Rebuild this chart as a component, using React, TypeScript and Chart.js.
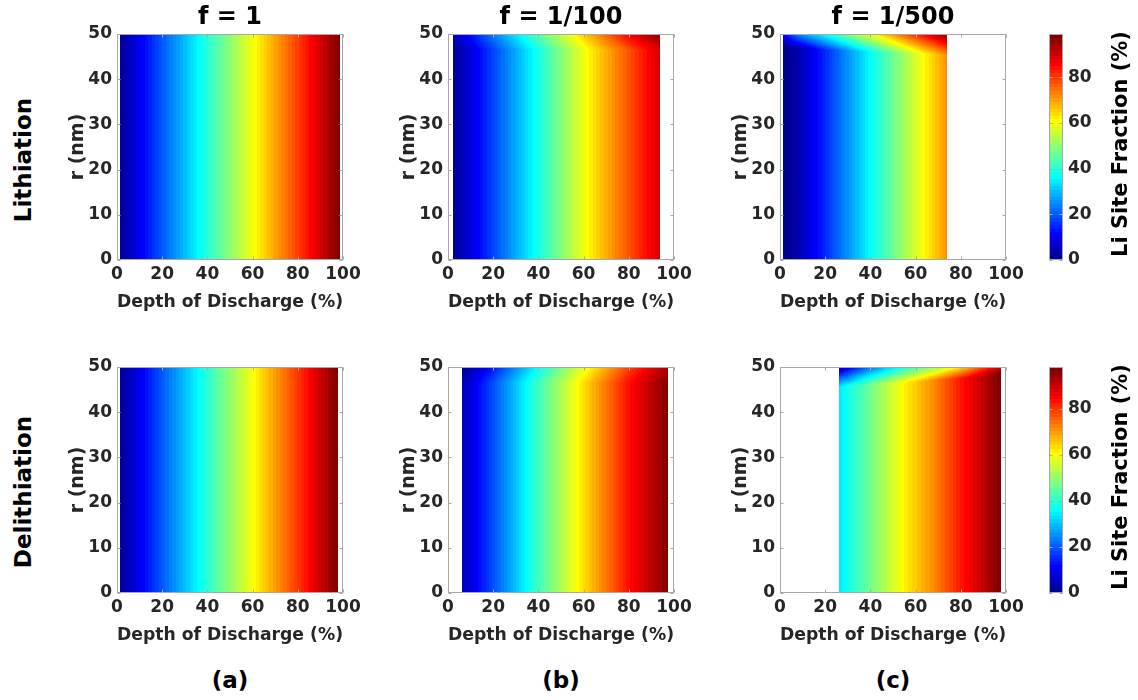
import React, { useEffect, useRef } from 'react';
import { Chart, registerables } from 'chart.js';

Chart.register(...registerables);

// ---------------- text ----------------
const COLUMN_TITLES = ['f = 1', 'f = 1/100', 'f = 1/500'];
const ROW_LABELS = ['Lithiation', 'Delithiation'];
const PANEL_LABELS = ['(a)', '(b)', '(c)'];
const X_TITLE = 'Depth of Discharge (%)';
const Y_TITLE = 'r (nm)';
const CBAR_TITLE = 'Li Site Fraction (%)';

// ---------------- axes ----------------
const DOD_RANGE = [0, 100];
const DOD_STEP = 20;
const R_RANGE = [0, 50];
const R_STEP = 10;
const CBAR_STEP = 20;
const CLIM_MAX = [98.9, 98.1]; // colour limits (Li site fraction %) per row

// ---------------- data ----------------
// Each panel: DOD columns (%), bulk Li fraction (%), fraction at surface r = 50 nm (%),
// and radius (nm) where the surface layer begins.
// Lithiation, f = 1
const liF1Dod = [1.5, 20, 40, 60, 80, 98.8];
const liF1Bulk = [1.5, 20, 40, 60, 80, 98.8];
const liF1Surf = [1.5, 20, 40, 60, 80, 98.8];
const liF1Rint = [47, 47, 47, 47, 47, 47];
// Lithiation, f = 1/100
const liF100Dod = [2, 20, 39, 63, 80, 93.7];
const liF100Bulk = [1, 18, 37.5, 62.5, 78, 90];
const liF100Surf = [5, 24, 44, 69, 87, 97];
const liF100Rint = [46.5, 46.5, 46.5, 46.5, 46.5, 46.5];
// Lithiation, f = 1/500
const liF500Dod = [1.5, 8, 17, 22, 41, 53, 65, 74];
const liF500Bulk = [0, 4, 12.5, 17.5, 37.5, 50, 62.5, 72];
const liF500Surf = [12, 25, 35, 40, 61, 75, 88, 97];
const liF500Rint = [47, 46.8, 46.6, 46.4, 46, 45.8, 45.5, 45.3];
// Delithiation, f = 1
const deF1Dod = [1.5, 20, 40, 60, 80, 98];
const deF1Bulk = [1.5, 20, 40, 60, 80, 98];
const deF1Surf = [1.5, 20, 40, 60, 80, 98];
const deF1Rint = [47, 47, 47, 47, 47, 47];
// Delithiation, f = 1/100
const deF100Dod = [6.2, 20, 36, 59, 80, 97.4];
const deF100Bulk = [4, 19, 37.5, 62.5, 84, 97];
const deF100Surf = [0, 13.5, 32, 57, 79, 93];
const deF100Rint = [46.5, 46.5, 46.5, 46.5, 46.5, 46.5];
// Delithiation, f = 1/500
const deF500Dod = [26, 38, 55, 68, 80, 91, 97.6];
const deF500Bulk = [34, 45, 61.5, 72, 83, 92, 98];
const deF500Surf = [3, 20, 38, 50, 63, 80, 90];
const deF500Rint = [45.5, 46, 46.5, 47, 47.5, 48, 48.5];

const FIELDS = [
  [
    { dod: liF1Dod, bulk: liF1Bulk, surf: liF1Surf, rint: liF1Rint },
    { dod: liF100Dod, bulk: liF100Bulk, surf: liF100Surf, rint: liF100Rint },
    { dod: liF500Dod, bulk: liF500Bulk, surf: liF500Surf, rint: liF500Rint },
  ],
  [
    { dod: deF1Dod, bulk: deF1Bulk, surf: deF1Surf, rint: deF1Rint },
    { dod: deF100Dod, bulk: deF100Bulk, surf: deF100Surf, rint: deF100Rint },
    { dod: deF500Dod, bulk: deF500Bulk, surf: deF500Surf, rint: deF500Rint },
  ],
];

// ---------------- styling / layout ----------------
const FONT = '"DejaVu Sans", "Liberation Sans", sans-serif';
const TICK_COLOR = '#262626';
const BOX_COLOR = '#a8a8a8';
const BOX_X = [117, 448, 780];
const BOX_Y = [34, 367];
const BOX_W = 226;
const BOX_H = 226;
const Y_AXIS_W = 67;
const X_AXIS_H = 56;
const TOP_SPACE = 34;
const RIGHT_SPACE = 24;
const CBAR_X = 1049;
const CBAR_W = 14;
const CBAR_AXIS_W = 50;

// MATLAB jet(64)
const JET: number[][] = (() => {
  const uf = (k: number) => (k < 1 || k > 47 ? 0 : k <= 16 ? k / 16 : k <= 31 ? 1 : (48 - k) / 16);
  const out: number[][] = [];
  for (let j = 1; j <= 64; j++) out.push([uf(j - 24), uf(j - 8), uf(j + 8)].map((c) => Math.round(c * 255)));
  return out;
})();

function jetIndex(v: number, cmax: number) {
  let i = Math.floor((v / cmax) * 64);
  if (i < 0) i = 0;
  if (i > 63) i = 63;
  return i;
}

function interp(xs: number[], ys: number[], x: number) {
  if (x <= xs[0]) return ys[0];
  for (let i = 1; i < xs.length; i++) {
    if (x <= xs[i]) {
      const t = (x - xs[i - 1]) / (xs[i] - xs[i - 1]);
      return ys[i - 1] + (ys[i] - ys[i - 1]) * t;
    }
  }
  return ys[ys.length - 1];
}

function makeHeatmapPlugin(field: any, cmax: number) {
  return {
    id: 'heatmap',
    beforeDatasetsDraw(chart: any) {
      const { ctx, chartArea, scales } = chart;
      const xs = scales.x;
      const ys = scales.y;
      const x0 = Math.round(chartArea.left);
      const x1 = Math.round(chartArea.right);
      const y0 = Math.round(chartArea.top);
      const y1 = Math.round(chartArea.bottom);
      const w = x1 - x0;
      const h = y1 - y0;
      const img = ctx.createImageData(w, h);
      const dmin = field.dod[0];
      const dmax = field.dod[field.dod.length - 1];
      const rTop = R_RANGE[1];
      for (let i = 0; i < w; i++) {
        const d = xs.getValueForPixel(x0 + i + 0.5);
        if (d < dmin || d > dmax) continue;
        const b = interp(field.dod, field.bulk, d);
        const s = interp(field.dod, field.surf, d);
        const ri = interp(field.dod, field.rint, d);
        for (let j = 0; j < h; j++) {
          const r = ys.getValueForPixel(y0 + j + 0.5);
          const t = r <= ri ? 0 : Math.min(1, (r - ri) / (rTop - ri));
          const v = b + (s - b) * t;
          const c = JET[jetIndex(v, cmax)];
          const k = (j * w + i) * 4;
          img.data[k] = c[0];
          img.data[k + 1] = c[1];
          img.data[k + 2] = c[2];
          img.data[k + 3] = 255;
        }
      }
      ctx.putImageData(img, x0, y0);
    },
  };
}

const boxPlugin = {
  id: 'box',
  afterDraw(chart: any) {
    const { ctx, chartArea, scales } = chart;
    const l = Math.round(chartArea.left) + 0.5;
    const r = Math.round(chartArea.right) - 0.5;
    const t = Math.round(chartArea.top) + 0.5;
    const b = Math.round(chartArea.bottom) - 0.5;
    ctx.save();
    ctx.strokeStyle = BOX_COLOR;
    ctx.lineWidth = 1;
    ctx.strokeRect(l, t, r - l, b - t);
    ctx.beginPath();
    const tl = 3;
    if (scales.x && scales.x.options.display !== false) {
      scales.x.ticks.forEach((tk: any) => {
        const px = Math.round(scales.x.getPixelForValue(tk.value)) + 0.5;
        ctx.moveTo(px, b);
        ctx.lineTo(px, b - tl);
        ctx.moveTo(px, t);
        ctx.lineTo(px, t + tl);
      });
    }
    scales.y.ticks.forEach((tk: any) => {
      const py = Math.round(scales.y.getPixelForValue(tk.value)) + 0.5;
      ctx.moveTo(l, py);
      ctx.lineTo(l + tl, py);
      ctx.moveTo(r, py);
      ctx.lineTo(r - tl, py);
    });
    ctx.stroke();
    ctx.restore();
  },
};

function Panel({ row, col }: { row: number; col: number }) {
  const ref = useRef<HTMLCanvasElement>(null);
  const width = Y_AXIS_W + BOX_W + RIGHT_SPACE;
  const height = TOP_SPACE + BOX_H + X_AXIS_H;
  const left = BOX_X[col] - Y_AXIS_W;
  const top = BOX_Y[row] - TOP_SPACE;
  useEffect(() => {
    const showTitle = row === 0;
    const tickFont = { family: FONT, size: 17, weight: 'bold' as const };
    const xLabelFont = { family: FONT, size: 18, weight: 'bold' as const };
    const yLabelFont = { family: FONT, size: 19, weight: 'bold' as const };
    const chart = new Chart(ref.current as HTMLCanvasElement, {
      type: 'scatter',
      data: { datasets: [] },
      options: {
        responsive: false,
        maintainAspectRatio: false,
        animation: false,
        events: [],
        layout: { padding: { left: 0, right: RIGHT_SPACE, top: showTitle ? 0 : TOP_SPACE, bottom: 0 } },
        plugins: {
          legend: { display: false },
          tooltip: { enabled: false },
          title: {
            display: showTitle,
            text: COLUMN_TITLES[col],
            color: '#000',
            fullSize: false,
            font: { family: FONT, size: 24, weight: 'bold' },
            padding: { top: 3, bottom: 2.2 },
          },
        },
        scales: {
          x: {
            type: 'linear',
            min: DOD_RANGE[0],
            max: DOD_RANGE[1],
            afterFit: (s: any) => {
              s.height = X_AXIS_H;
              s.paddingLeft = 0;
              s.paddingRight = 0;
            },
            grid: { display: false, drawTicks: false },
            border: { display: false },
            ticks: {
              stepSize: DOD_STEP,
              includeBounds: false,
              autoSkip: false,
              maxRotation: 0,
              font: tickFont,
              color: TICK_COLOR,
              padding: 4,
            },
            title: { display: true, text: X_TITLE, font: xLabelFont, color: TICK_COLOR, padding: { top: 0, bottom: 3 } },
          },
          y: {
            type: 'linear',
            position: 'left',
            min: R_RANGE[0],
            max: R_RANGE[1],
            afterFit: (s: any) => {
              s.width = Y_AXIS_W;
              s.paddingTop = 0;
              s.paddingBottom = 0;
            },
            grid: { display: false, drawTicks: false },
            border: { display: false },
            ticks: { stepSize: R_STEP, includeBounds: false, autoSkip: false, font: tickFont, color: TICK_COLOR, padding: 5 },
            title: { display: true, text: Y_TITLE, font: yLabelFont, color: TICK_COLOR, padding: { top: 17, bottom: 0 } },
          },
        },
      } as any,
      plugins: [makeHeatmapPlugin(FIELDS[row][col], CLIM_MAX[row]), boxPlugin],
    });
    return () => chart.destroy();
  }, [row, col]);
  return (
    <canvas
      ref={ref}
      width={width}
      height={height}
      style={{ position: 'absolute', left, top, width, height, display: 'block' }}
    />
  );
}

function makeColorbarPlugin(cmax: number) {
  return {
    id: 'colorbar',
    beforeDatasetsDraw(chart: any) {
      const { ctx, chartArea, scales } = chart;
      const ys = scales.y;
      ctx.save();
      for (let i = 0; i < 64; i++) {
        const v0 = (i * cmax) / 64;
        const v1 = ((i + 1) * cmax) / 64;
        const yTop = Math.floor(ys.getPixelForValue(v1));
        const yBot = Math.ceil(ys.getPixelForValue(v0));
        const c = JET[i];
        ctx.fillStyle = `rgb(${c[0]},${c[1]},${c[2]})`;
        ctx.fillRect(chartArea.left, yTop, chartArea.right - chartArea.left, yBot - yTop);
      }
      ctx.restore();
    },
  };
}

function Colorbar({ row }: { row: number }) {
  const ref = useRef<HTMLCanvasElement>(null);
  const pad = 12;
  const width = CBAR_W + CBAR_AXIS_W;
  const height = BOX_H + 2 * pad;
  const left = CBAR_X;
  const top = BOX_Y[row] - pad;
  useEffect(() => {
    const chart = new Chart(ref.current as HTMLCanvasElement, {
      type: 'scatter',
      data: { datasets: [] },
      options: {
        responsive: false,
        maintainAspectRatio: false,
        animation: false,
        events: [],
        layout: { padding: { left: 0, right: 0, top: pad, bottom: pad } },
        plugins: { legend: { display: false }, tooltip: { enabled: false }, title: { display: false } },
        scales: {
          x: { type: 'linear', display: false, min: 0, max: 1 },
          y: {
            type: 'linear',
            position: 'right',
            min: 0,
            max: CLIM_MAX[row],
            afterFit: (s: any) => {
              s.width = CBAR_AXIS_W;
              s.paddingTop = 0;
              s.paddingBottom = 0;
            },
            grid: { display: false, drawTicks: false },
            border: { display: false },
            ticks: {
              stepSize: CBAR_STEP,
              includeBounds: false,
              autoSkip: false,
              font: { family: FONT, size: 17, weight: 'bold' },
              color: TICK_COLOR,
              padding: 5,
            },
          },
        },
      } as any,
      plugins: [makeColorbarPlugin(CLIM_MAX[row]), boxPlugin],
    });
    return () => chart.destroy();
  }, [row]);
  return (
    <canvas
      ref={ref}
      width={width}
      height={height}
      style={{ position: 'absolute', left, top, width, height, display: 'block' }}
    />
  );
}

function RotatedText({ text, cx, cy, size }: { text: string; cx: number; cy: number; size: number }) {
  return (
    <div
      style={{
        position: 'absolute',
        left: cx,
        top: cy,
        transform: 'translate(-50%, -50%) rotate(-90deg)',
        whiteSpace: 'nowrap',
        fontFamily: FONT,
        fontWeight: 'bold',
        fontSize: size,
        lineHeight: 1,
        color: '#000',
      }}
    >
      {text}
    </div>
  );
}

export default function App() {
  const rowLabelY = [160, 492];
  const cbarLabelY = [144, 477];
  return (
    <div
      style={{
        position: 'absolute',
        left: 0,
        top: 0,
        width: 1138,
        height: 700,
        background: '#fff',
        overflow: 'hidden',
      }}
    >
      {[0, 1].map((row) =>
        [0, 1, 2].map((col) => <Panel key={`${row}-${col}`} row={row} col={col} />)
      )}
      {[0, 1].map((row) => (
        <Colorbar key={`cb-${row}`} row={row} />
      ))}
      {ROW_LABELS.map((t, i) => (
        <RotatedText key={t} text={t} cx={23} cy={rowLabelY[i]} size={23} />
      ))}
      {[0, 1].map((row) => (
        <RotatedText key={`cbl-${row}`} text={CBAR_TITLE} cx={1120} cy={cbarLabelY[row]} size={21} />
      ))}
      {PANEL_LABELS.map((t, i) => (
        <div
          key={t}
          style={{
            position: 'absolute',
            left: BOX_X[i] + BOX_W / 2,
            top: 680,
            transform: 'translate(-50%, -50%)',
            whiteSpace: 'nowrap',
            fontFamily: FONT,
            fontWeight: 'bold',
            fontSize: 23,
            lineHeight: 1,
            color: '#000',
          }}
        >
          {t}
        </div>
      ))}
    </div>
  );
}
